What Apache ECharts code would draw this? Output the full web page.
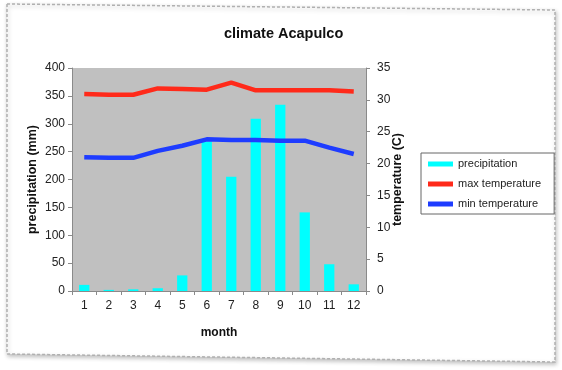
<!DOCTYPE html>
<html>
<head>
<meta charset="utf-8">
<script src="https://cdn.jsdelivr.net/npm/echarts@6/dist/echarts.min.js"></script>
<style>
html,body{margin:0;padding:0;background:#fff;}
#chart{width:562px;height:370px;}
</style>
</head>
<body>
<div id="chart"></div>
<script>
var months = ['1','2','3','4','5','6','7','8','9','10','11','12'];
var precipitation = [11, 2, 3, 5, 28, 268, 205, 309, 334, 141, 48, 12];
var maxTemperature = [30.9, 30.8, 30.8, 31.8, 31.7, 31.6, 32.7, 31.5, 31.5, 31.5, 31.5, 31.3];
var minTemperature = [21.0, 20.9, 20.9, 22.0, 22.8, 23.8, 23.7, 23.7, 23.6, 23.6, 22.5, 21.5];

var chart = echarts.init(document.getElementById('chart'), null, {renderer:'canvas'});
var font = 'Liberation Sans, Arial, sans-serif';
var axisGray = '#8a8a8a';
chart.setOption({
  animation: false,
  backgroundColor: '#fff',
  textStyle: {fontFamily: font},
  graphic: [{
    type: 'polygon',
    shape: {points: [[7,4],[555,10],[555,362],[7,354]]},
    style: {fill: '#fff', stroke: '#b0b0b0', lineWidth: 1.5, lineDash: [3,2],
            shadowBlur: 4, shadowColor: 'rgba(0,0,0,0.25)', shadowOffsetX: 1, shadowOffsetY: 2},
    z: -10
  }],
  title: {
    text: 'climate Acapulco',
    left: 219, top: 21,
    textStyle: {fontFamily: font, fontSize: 14.5, fontWeight: 'bold', color: '#111'}
  },
  legend: {
    orient: 'vertical',
    left: 421, top: 153,
    padding: [4, 13, 3, 7],
    borderColor: '#666', borderWidth: 1,
    backgroundColor: '#fff',
    itemWidth: 25, itemHeight: 5, itemGap: 6,
    icon: 'rect',
    textStyle: {fontFamily: font, fontSize: 11, color: '#222', lineHeight: 14},
    data: ['precipitation', 'max temperature', 'min temperature']
  },
  grid: {
    left: 72, right: 196, top: 68, bottom: 79,
    show: true, backgroundColor: '#c0c0c0', borderWidth: 0
  },
  xAxis: {
    type: 'category', data: months, boundaryGap: true,
    name: 'month', nameLocation: 'middle', nameGap: 36,
    nameTextStyle: {fontFamily: font, fontSize: 12, fontWeight: 'bold', color: '#111'},
    axisLine: {show: true, lineStyle: {color: axisGray}},
    axisTick: {show: true, interval: 0, length: 4, lineStyle: {color: axisGray}},
    axisLabel: {interval: 0, margin: 9, fontSize: 12, color: '#222'},
    splitLine: {show: false}
  },
  yAxis: [{
    type: 'value', min: 0, max: 400, interval: 50, position: 'left',
    name: 'precipitation (mm)', nameLocation: 'middle', nameGap: 33, nameRotate: 90,
    nameMoveOverlap: false,
    nameTextStyle: {fontFamily: font, fontSize: 12.5, fontWeight: 'bold', color: '#111'},
    axisLine: {show: true, lineStyle: {color: axisGray}},
    axisTick: {show: true, length: 4, lineStyle: {color: axisGray}},
    axisLabel: {margin: 7, fontSize: 12, color: '#222'},
    splitLine: {show: false}
  }, {
    type: 'value', min: 0, max: 35, interval: 5, position: 'right',
    name: 'temperature (C)', nameLocation: 'middle', nameGap: 25, nameRotate: 90,
    nameMoveOverlap: false,
    nameTextStyle: {fontFamily: font, fontSize: 12.5, fontWeight: 'bold', color: '#111'},
    axisLine: {show: true, lineStyle: {color: axisGray}},
    axisTick: {show: true, length: 4, lineStyle: {color: axisGray}},
    axisLabel: {margin: 11, fontSize: 12, color: '#222'},
    splitLine: {show: false}
  }],
  series: [{
    name: 'precipitation', type: 'bar', yAxisIndex: 0,
    data: precipitation, barWidth: '42%',
    itemStyle: {color: '#00ffff'}
  }, {
    name: 'max temperature', type: 'line', yAxisIndex: 1,
    data: maxTemperature, showSymbol: false, symbol: 'none',
    lineStyle: {color: '#ff2a1a', width: 4.5}, itemStyle: {color: '#ff2a1a'}
  }, {
    name: 'min temperature', type: 'line', yAxisIndex: 1,
    data: minTemperature, showSymbol: false, symbol: 'none',
    lineStyle: {color: '#1e3cff', width: 4.5}, itemStyle: {color: '#1e3cff'}
  }]
});
</script>
</body>
</html>
